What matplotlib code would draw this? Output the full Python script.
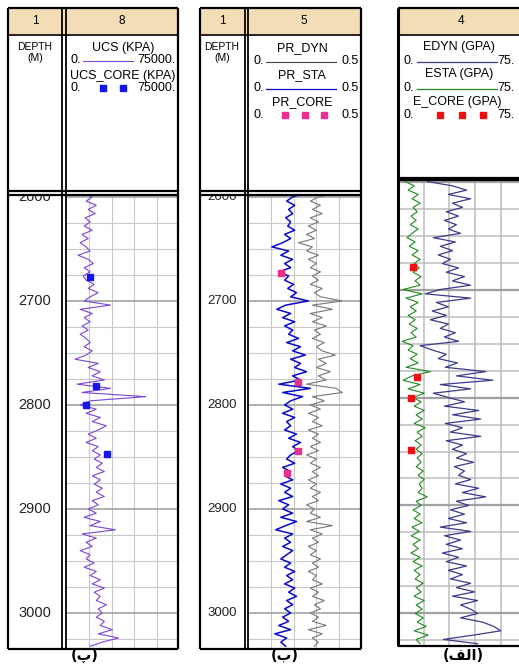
import numpy as np
import matplotlib
matplotlib.use('Agg')
import matplotlib.pyplot as plt
from matplotlib.patches import Rectangle

plt.rcParams['font.family'] = ['Liberation Sans', 'DejaVu Sans']

W, H = 519, 664

# ---------------- data ----------------
DEPTH_A = np.arange(2596, 3036, 4)          # sample depths, panels (پ) and (ب)
UCS = [8800, 16900, 12800, 19600, 14200, 18900, 12200, 15500, 11500, 16900,
       10100, 14200, 8800, 12800, 15500, 7400, 14200, 17600, 11500, 15500,
       10800, 12800, 18200, 14200, 20900, 15500, 11500, 29100, 8800, 16900,
       11500, 15500, 10100, 14200, 8800, 12800, 15500, 11500, 16900, 12800,
       5400, 20900, 14200, 22300, 16900, 25000, 6800, 29100, 10100, 52700,
       15500, 8800, 19600, 12800, 22300, 16900, 26400, 20900, 14200, 19600,
       12800, 20900, 16900, 22300, 18200, 23600, 19600, 25000, 16900, 22300,
       18200, 23600, 19600, 25000, 16900, 20900, 14200, 19600, 11500, 22300,
       15500, 32400, 10100, 19600, 12800, 16900, 8800, 15500, 12800, 18200,
       11500, 19600, 15500, 22300, 16900, 25000, 18200, 22300, 19600, 26400,
       20900, 23600, 19600, 25000, 22300, 30400, 20900, 34500, 23600, 15500]
PR_STA = [0.257, 0.195, 0.168, 0.204, 0.177, 0.195, 0.164, 0.186, 0.173, 0.204,
          0.159, 0.186, 0.150, 0.102, 0.177, 0.142, 0.195, 0.159, 0.186, 0.133,
          0.177, 0.159, 0.199, 0.173, 0.212, 0.186, 0.265, 0.164, 0.124, 0.186,
          0.150, 0.204, 0.159, 0.195, 0.177, 0.221, 0.168, 0.230, 0.195, 0.252,
          0.186, 0.230, 0.204, 0.257, 0.195, 0.230, 0.133, 0.274, 0.150, 0.239,
          0.186, 0.159, 0.195, 0.150, 0.204, 0.168, 0.186, 0.159, 0.212, 0.177,
          0.230, 0.195, 0.221, 0.186, 0.168, 0.204, 0.150, 0.186, 0.159, 0.195,
          0.142, 0.186, 0.159, 0.195, 0.133, 0.177, 0.150, 0.195, 0.142, 0.212,
          0.164, 0.119, 0.195, 0.159, 0.186, 0.150, 0.195, 0.168, 0.142, 0.186,
          0.159, 0.204, 0.168, 0.195, 0.159, 0.204, 0.177, 0.212, 0.168, 0.195,
          0.159, 0.186, 0.150, 0.177, 0.133, 0.186, 0.115, 0.168, 0.142, 0.164]
PR_DYN = [0.394, 0.310, 0.274, 0.319, 0.283, 0.327, 0.274, 0.310, 0.265, 0.301,
          0.257, 0.292, 0.221, 0.283, 0.257, 0.310, 0.265, 0.301, 0.274, 0.319,
          0.283, 0.310, 0.274, 0.327, 0.292, 0.319, 0.416, 0.283, 0.372, 0.274,
          0.327, 0.283, 0.345, 0.292, 0.319, 0.283, 0.336, 0.301, 0.327, 0.385,
          0.310, 0.345, 0.301, 0.363, 0.310, 0.345, 0.257, 0.389, 0.416, 0.283,
          0.336, 0.274, 0.319, 0.265, 0.310, 0.283, 0.327, 0.265, 0.310, 0.283,
          0.319, 0.274, 0.310, 0.257, 0.301, 0.274, 0.319, 0.283, 0.310, 0.265,
          0.301, 0.274, 0.319, 0.283, 0.310, 0.257, 0.292, 0.274, 0.319, 0.257,
          0.372, 0.274, 0.327, 0.283, 0.310, 0.265, 0.301, 0.274, 0.319, 0.283,
          0.310, 0.265, 0.301, 0.283, 0.327, 0.274, 0.310, 0.283, 0.336, 0.292,
          0.319, 0.274, 0.310, 0.283, 0.345, 0.265, 0.327, 0.283, 0.310, 0.292]

DEPTH_B = np.arange(2600, 3032, 4)          # sample depths, panel (الف)
ESTA = [4.1, 9.4, 5.9, 11.8, 8.2, 12.9, 8.8, 11.2, 7.6, 10.6,
        7.1, 11.8, 8.2, 5.3, 10.0, 6.5, 11.8, 8.2, 12.9, 9.4,
        12.4, 8.8, 13.5, 10.0, 12.9, 2.9, 14.1, 4.7, 11.8, 7.1,
        10.6, 5.9, 10.0, 6.5, 11.2, 7.6, 10.6, 2.4, 8.8, 5.9,
        11.2, 7.1, 11.8, 4.7, 18.8, 8.2, 2.9, 12.9, 5.9, 15.3,
        8.8, 13.5, 9.4, 15.3, 10.6, 14.1, 9.4, 15.9, 11.2, 14.1,
        10.0, 13.5, 10.6, 14.1, 11.2, 13.5, 10.6, 14.7, 11.8, 15.3,
        12.4, 14.1, 11.8, 17.1, 10.6, 13.5, 8.8, 12.9, 9.4, 14.1,
        8.2, 12.4, 7.6, 12.9, 8.8, 11.8, 7.6, 12.9, 8.8, 14.1,
        9.4, 12.9, 10.0, 14.7, 10.6, 13.5, 9.4, 15.3, 10.6, 14.1,
        10.0, 14.7, 11.2, 16.5, 9.4, 17.6, 10.6, 12.9]
EDYN = [17.1, 31.8, 40.0, 29.4, 42.4, 31.8, 37.6, 28.2, 35.3, 27.1,
        34.1, 29.4, 36.5, 20.6, 33.5, 24.7, 31.8, 23.5, 30.6, 25.9,
        35.3, 28.2, 38.8, 31.8, 42.4, 24.7, 15.9, 42.4, 22.4, 29.4,
        20.0, 28.2, 18.8, 29.4, 24.7, 33.5, 27.1, 35.3, 12.9, 20.0,
        28.2, 23.5, 34.7, 27.6, 51.2, 34.1, 55.3, 24.7, 42.4, 20.6,
        29.4, 38.8, 27.1, 47.1, 31.8, 48.2, 27.6, 37.6, 30.6, 48.2,
        28.2, 37.6, 31.8, 40.0, 34.1, 44.1, 32.9, 38.8, 35.3, 42.4,
        33.5, 47.1, 37.6, 51.2, 34.1, 41.2, 30.6, 38.8, 29.4, 40.0,
        24.7, 42.4, 27.1, 36.5, 28.2, 37.6, 25.9, 35.3, 28.2, 40.0,
        29.4, 37.6, 30.6, 42.4, 34.1, 44.7, 31.8, 46.5, 36.5, 42.4,
        46.5, 36.5, 49.4, 55.9, 60.0, 44.1, 26.5, 46.5]

UCS_CORE_DEPTH = [2676.6, 2781.4, 2800.0, 2847.0]
UCS_CORE = [15500, 19600, 12800, 26800]
PR_CORE_DEPTH = [2673.4, 2778.0, 2844.0, 2865.7]
PR_CORE = [0.142, 0.220, 0.220, 0.171]
E_CORE_DEPTH = [2679.5, 2781.2, 2800.9, 2848.7]
E_CORE = [8.6, 11.0, 7.6, 7.6]

DEPTH_LABELS = [2600, 2700, 2800, 2900, 3000]
PANEL_LABELS = ["(\u067E)", "(\u0628)", "(\uFED2\uFEDF\uFE8D)"]   # (پ) (ب) (الف)

# ---------------- figure ----------------
fig = plt.figure(figsize=(W / 100, H / 100), dpi=100)


def ax_at(x0, y0, x1, y1, **kw):
    return fig.add_axes([x0 / W, 1 - y1 / H, (x1 - x0) / W, (y1 - y0) / H], **kw)


def make_track(x0, y0, x1, y1, xmax, dtop, dbot, grid_c='#C9C9C9', major_c='#A9A9A9', glw=0.8, mlw=1.3):
    ax = ax_at(x0, y0, x1, y1)
    ax.set_xlim(0, xmax)
    ax.set_ylim(dbot, dtop)
    ax.axis('off')
    for k in range(1, 5):
        ax.axvline(xmax * k / 5, color=grid_c, lw=glw, zorder=0)
    for d in range(2600, 3050, 25):
        if d % 100 == 0:
            ax.axhline(d, color=major_c, lw=mlw, zorder=0)
        else:
            ax.axhline(d, color=grid_c, lw=glw, zorder=0)
    return ax


def make_depth(x0, y0, x1, y1, dtop, dbot, fs):
    ax = ax_at(x0, y0, x1, y1)
    ax.set_xlim(0, 1)
    ax.set_ylim(dbot, dtop)
    ax.axis('off')
    for d in DEPTH_LABELS:
        ax.text(0.5, d, str(d), ha='center', va='center', fontsize=fs,
                color='#222222', clip_on=True)
    return ax


# Panel (پ) - UCS
top12, bot12 = 2596.2, 3034.6
ax1 = make_track(67, 193, 179, 649, 75000, top12, bot12)
ax1.plot(UCS, DEPTH_A, color='#7B45D6', lw=0.8, zorder=2)
ax1.plot(UCS_CORE, UCS_CORE_DEPTH, 's', color='#1515F0', ms=5, zorder=3)
make_depth(8, 193, 62, 649, top12, bot12, 10.5)

# Panel (ب) - Poisson ratio
ax2 = make_track(249, 193, 361, 649, 0.5, top12, bot12)
ax2.plot(PR_DYN, DEPTH_A, color='#777777', lw=0.8, zorder=2)
ax2.plot(PR_STA, DEPTH_A, color='#0A0ACC', lw=1.1, zorder=2)
ax2.plot(PR_CORE, PR_CORE_DEPTH, 's', color='#EC2F8E', ms=5, zorder=3)
make_depth(200, 193, 245, 649, top12, bot12, 9.5)

# Panel (الف) - Young's modulus
ax3 = make_track(398, 180, 526.5, 646, 75, 2598.6, 3030.1,
                 grid_c='#BDBDBD', major_c='#A0A0A0', glw=1.1, mlw=1.6)
ax3.plot(ESTA, DEPTH_B, color='#1F8A1F', lw=0.8, zorder=2)
ax3.plot(EDYN, DEPTH_B, color='#3B3B8C', lw=0.9, zorder=2)
ax3.plot(E_CORE, E_CORE_DEPTH, 's', color='#EE1010', ms=5, zorder=3)

# ---------------- overlay: frames and headers ----------------
ov = fig.add_axes([0, 0, 1, 1], zorder=10)
ov.set_xlim(0, W)
ov.set_ylim(H, 0)
ov.axis('off')
ov.patch.set_alpha(0)

TAN = '#F3DDB6'
LW = 1.6


def hline(x0, x1, y, lw=LW, c='k'):
    ov.plot([x0, x1], [y, y], color=c, lw=lw, solid_capstyle='butt')


def vline(x, y0, y1, lw=LW, c='k'):
    ov.plot([x, x], [y0, y1], color=c, lw=lw, solid_capstyle='butt')


# white mask strip above the tracks (hides top of clipped depth label)
ov.add_patch(Rectangle((8, 188), 170, 6.5, fc='white', ec='none'))
ov.add_patch(Rectangle((200, 188), 161, 6.5, fc='white', ec='none'))

# panel 1 frame
ov.add_patch(Rectangle((8, 8), 170, 27, fc=TAN, ec='none'))
hline(8, 178, 8); hline(8, 178, 35, lw=1.2); hline(8, 178, 190.5); hline(8, 178, 194.5)
hline(8, 178, 649); vline(8, 8, 649); vline(178, 8, 649)
vline(62, 8, 649, lw=1.3); vline(65.5, 8, 649, lw=1.3)
# panel 2 frame
ov.add_patch(Rectangle((200, 8), 161, 27, fc=TAN, ec='none'))
hline(200, 361, 8); hline(200, 361, 35, lw=1.2); hline(200, 361, 190.5); hline(200, 361, 194.5)
hline(200, 361, 649); vline(200, 8, 649); vline(361, 8, 649)
vline(244.5, 8, 649, lw=1.3); vline(248, 8, 649, lw=1.3)
# panel 3 frame
ov.add_patch(Rectangle((398, 8), 125, 27, fc=TAN, ec='none'))
hline(398, 519, 8); hline(398, 519, 35, lw=1.2); hline(398, 519, 177.5); hline(398, 519, 180)
hline(398, 519, 646); vline(398, 8, 646, lw=2.2)

hf = 9
nf = 9
# headers panel 1
ov.text(35, 21.5, '1', ha='center', va='center', fontsize=8.5)
ov.text(122, 21.5, '8', ha='center', va='center', fontsize=8.5)
ov.text(35, 47, 'DEPTH', ha='center', va='center', fontsize=7.5)
ov.text(35, 58, '(M)', ha='center', va='center', fontsize=7.5)
ov.text(123, 47.5, 'UCS (KPA)', ha='center', va='center', fontsize=hf)
ov.text(70.5, 60, '0.', ha='left', va='center', fontsize=nf)
ov.text(176, 60, '75000.', ha='right', va='center', fontsize=nf)
ov.plot([83, 133], [61, 61], color='#7B45D6', lw=0.8)
ov.text(123, 76.5, 'UCS_CORE (KPA)', ha='center', va='center', fontsize=hf)
ov.text(70.5, 88, '0.', ha='left', va='center', fontsize=nf)
ov.text(176, 88, '75000.', ha='right', va='center', fontsize=nf)
ov.plot([103, 122.5], [88, 88], 's', color='#1515F0', ms=4)

# headers panel 2
ov.text(222, 21.5, '1', ha='center', va='center', fontsize=8.5)
ov.text(304, 21.5, '5', ha='center', va='center', fontsize=8.5)
ov.text(222, 47, 'DEPTH', ha='center', va='center', fontsize=7.5)
ov.text(222, 58, '(M)', ha='center', va='center', fontsize=7.5)
ov.text(302, 48, 'PR_DYN', ha='center', va='center', fontsize=hf)
ov.text(253, 61, '0.', ha='left', va='center', fontsize=nf)
ov.text(359, 61, '0.5', ha='right', va='center', fontsize=nf)
ov.plot([266, 336], [61.5, 61.5], color='#444444', lw=0.8)
ov.text(302, 75, 'PR_STA', ha='center', va='center', fontsize=hf)
ov.text(253, 88, '0.', ha='left', va='center', fontsize=nf)
ov.text(359, 88, '0.5', ha='right', va='center', fontsize=nf)
ov.plot([266, 336], [88.5, 88.5], color='#0A0ACC', lw=0.9)
ov.text(302, 102, 'PR_CORE', ha='center', va='center', fontsize=hf)
ov.text(253, 115, '0.', ha='left', va='center', fontsize=nf)
ov.text(359, 115, '0.5', ha='right', va='center', fontsize=nf)
ov.plot([285, 304.5, 324], [115, 115, 115], 's', color='#EC2F8E', ms=4)

# headers panel 3
ov.text(461, 21.5, '4', ha='center', va='center', fontsize=8.5)
ov.text(459, 47, 'EDYN (GPA)', ha='center', va='center', fontsize=hf)
ov.text(403, 61, '0.', ha='left', va='center', fontsize=nf)
ov.text(497, 61, '75.', ha='left', va='center', fontsize=nf)
ov.plot([417, 497], [61.5, 61.5], color='#3B3B8C', lw=0.9)
ov.text(459, 74, 'ESTA (GPA)', ha='center', va='center', fontsize=hf)
ov.text(403, 88, '0.', ha='left', va='center', fontsize=nf)
ov.text(497, 88, '75.', ha='left', va='center', fontsize=nf)
ov.plot([417, 497], [88.5, 88.5], color='#1F8A1F', lw=0.9)
ov.text(457, 102, 'E_CORE (GPA)', ha='center', va='center', fontsize=hf)
ov.text(403, 115, '0.', ha='left', va='center', fontsize=nf)
ov.text(497, 115, '75.', ha='left', va='center', fontsize=nf)
ov.plot([440, 461.5, 483], [115, 115, 115], 's', color='#EE1010', ms=4)

# panel captions
for xc, lab in zip([85, 285, 463], PANEL_LABELS):
    ov.text(xc, 663, lab, ha='center', va='bottom', fontsize=10.5, fontweight='bold',
            family=['DejaVu Sans'])

fig.savefig('out.png', dpi=100)
